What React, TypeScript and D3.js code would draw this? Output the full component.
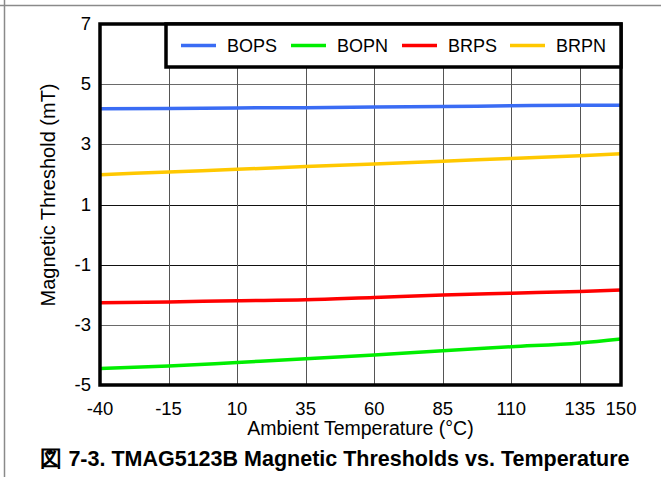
import * as d3 from "d3";
import { useEffect, useRef } from "react";

const WIDTH = 661;
const HEIGHT = 477;

const temps = [-40, -15, 10, 35, 60, 85, 110, 135, 150];
const xTicks = [-40, -15, 10, 35, 60, 85, 110, 135, 150];
const yTicks = [-5, -3, -1, 1, 3, 5, 7];

const bops = [4.18, 4.19, 4.21, 4.22, 4.24, 4.26, 4.28, 4.3, 4.3];
const bopn = [-4.45, -4.37, -4.25, -4.13, -4.0, -3.86, -3.73, -3.6, -3.47];
const brps = [-2.27, -2.24, -2.2, -2.17, -2.09, -2.01, -1.95, -1.89, -1.84];
const brpn = [1.99, 2.08, 2.17, 2.26, 2.35, 2.44, 2.53, 2.62, 2.69];

const seriesNames = ["BOPS", "BOPN", "BRPS", "BRPN"];
const seriesColors = ["#3a6cf4", "#00ee00", "#ff0000", "#ffc800"];
const seriesValues = [bops, bopn, brps, brpn];

const FONT = "'Liberation Sans', Arial, Helvetica, sans-serif";

export default function App() {
  const svgRef = useRef<SVGSVGElement>(null);

  useEffect(() => {
    const svgEl = svgRef.current;
    if (!svgEl) return;
    const svg = d3.select(svgEl);
    svg.selectAll("*").remove();

    const margin = { top: 24, right: 40, bottom: 92, left: 100 };
    const innerWidth = WIDTH - margin.left - margin.right;
    const innerHeight = HEIGHT - margin.top - margin.bottom;

    const x = d3.scaleLinear().domain([-40, 150]).range([0, innerWidth]);
    const y = d3.scaleLinear().domain([-5, 7]).range([innerHeight, 0]);

    // outer frame
    svg
      .append("line")
      .attr("x1", 0)
      .attr("x2", WIDTH)
      .attr("y1", 5.5)
      .attr("y2", 5.5)
      .attr("stroke", "#8a8a8a")
      .attr("stroke-width", 1.5);
    svg
      .append("line")
      .attr("x1", 4.5)
      .attr("x2", 4.5)
      .attr("y1", 0)
      .attr("y2", HEIGHT)
      .attr("stroke", "#8a8a8a")
      .attr("stroke-width", 1.5);

    const g = svg
      .append("g")
      .attr("transform", `translate(${margin.left},${margin.top})`);

    // grid
    g.selectAll("line.grid-y")
      .data(yTicks.slice(1, -1))
      .enter()
      .append("line")
      .attr("x1", 0)
      .attr("x2", innerWidth)
      .attr("y1", (t) => Math.round(y(t)) + 0.5)
      .attr("y2", (t) => Math.round(y(t)) + 0.5)
      .attr("stroke", (t) => (Math.abs(t) === 1 ? "#111" : "#6a6a6a"))
      .attr("stroke-width", 1);
    g.selectAll("line.grid-x")
      .data(xTicks.slice(1, -1))
      .enter()
      .append("line")
      .attr("x1", (t) => Math.round(x(t)) + 0.5)
      .attr("x2", (t) => Math.round(x(t)) + 0.5)
      .attr("y1", 0)
      .attr("y2", innerHeight)
      .attr("stroke", "#555")
      .attr("stroke-width", 1);

    // series
    const line = d3
      .line<number>()
      .x((_, i) => x(temps[i]))
      .y((v) => y(v))
      .curve(d3.curveMonotoneX);
    seriesValues.forEach((vals, i) => {
      g.append("path")
        .datum(vals)
        .attr("d", line)
        .attr("fill", "none")
        .attr("stroke", seriesColors[i])
        .attr("stroke-width", 3.5);
    });

    // plot border
    g.append("rect")
      .attr("x", 0)
      .attr("y", 0)
      .attr("width", innerWidth)
      .attr("height", innerHeight)
      .attr("fill", "none")
      .attr("stroke", "#000")
      .attr("stroke-width", 3.5);

    // tick labels
    g.selectAll("text.tick-y")
      .data(yTicks)
      .enter()
      .append("text")
      .attr("x", -9)
      .attr("y", (t) => y(t) + 6)
      .attr("text-anchor", "end")
      .attr("fill", "#000")
      .style("font-family", FONT)
      .style("font-size", "18.5px")
      .text((t) => String(t));
    g.selectAll("text.tick-x")
      .data(xTicks)
      .enter()
      .append("text")
      .attr("x", (t) => x(t))
      .attr("y", innerHeight + 30)
      .attr("text-anchor", "middle")
      .attr("fill", "#000")
      .style("font-family", FONT)
      .style("font-size", "18.5px")
      .text((t) => String(t));

    // axis titles
    g.append("text")
      .attr("x", innerWidth / 2)
      .attr("y", innerHeight + 50)
      .attr("text-anchor", "middle")
      .style("font-family", FONT)
      .style("font-size", "19.5px")
      .text("Ambient Temperature (°C)");
    g.append("text")
      .attr(
        "transform",
        `translate(${48 - margin.left + 7},${195 - margin.top}) rotate(-90)`,
      )
      .attr("text-anchor", "middle")
      .style("font-family", FONT)
      .style("font-size", "20px")
      .text("Magnetic Threshold (mT)");

    // legend
    const legendX = 166 - margin.left;
    const legend = g.append("g");
    legend
      .append("rect")
      .attr("x", legendX)
      .attr("y", 0)
      .attr("width", innerWidth - legendX)
      .attr("height", 43)
      .attr("fill", "#fff")
      .attr("stroke", "#000")
      .attr("stroke-width", 3.5);
    const itemX = [181, 291, 402, 510].map((v) => v - margin.left);
    seriesNames.forEach((name, i) => {
      legend
        .append("line")
        .attr("x1", itemX[i])
        .attr("x2", itemX[i] + 35)
        .attr("y1", 21.5)
        .attr("y2", 21.5)
        .attr("stroke", seriesColors[i])
        .attr("stroke-width", 3.5);
      legend
        .append("text")
        .attr("x", itemX[i] + 46)
        .attr("y", 28)
        .style("font-family", FONT)
        .style("font-size", "18px")
        .text(name);
    });

    // caption
    svg
      .append("text")
      .attr("x", 335)
      .attr("y", 466)
      .attr("text-anchor", "middle")
      .style("font-family", FONT)
      .style("font-size", "21.5px")
      .style("font-weight", "bold")
      .text("図 7-3. TMAG5123B Magnetic Thresholds vs. Temperature");
  }, []);

  return (
    <svg
      ref={svgRef}
      width={WIDTH}
      height={HEIGHT}
      style={{ position: "absolute", left: 0, top: 0, background: "#fff" }}
    />
  );
}
